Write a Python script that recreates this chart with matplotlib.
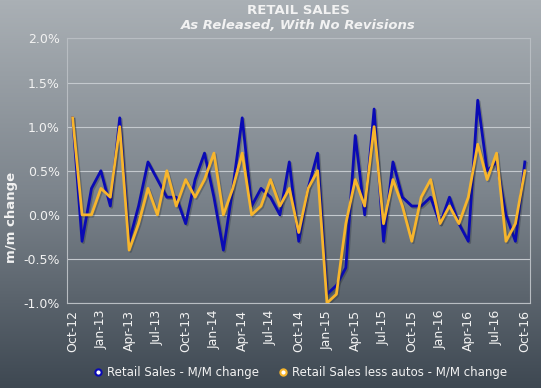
import numpy as np
import matplotlib.pyplot as plt
import matplotlib.patheffects as pe
from matplotlib.colors import LinearSegmentedColormap

# monthly data, Oct-12 .. Oct-16 (as released)
months = ["Oct-12", "Nov-12", "Dec-12", "Jan-13", "Feb-13", "Mar-13", "Apr-13", "May-13",
          "Jun-13", "Jul-13", "Aug-13", "Sep-13", "Oct-13", "Nov-13", "Dec-13", "Jan-14",
          "Feb-14", "Mar-14", "Apr-14", "May-14", "Jun-14", "Jul-14", "Aug-14", "Sep-14",
          "Oct-14", "Nov-14", "Dec-14", "Jan-15", "Feb-15", "Mar-15", "Apr-15", "May-15",
          "Jun-15", "Jul-15", "Aug-15", "Sep-15", "Oct-15", "Nov-15", "Dec-15", "Jan-16",
          "Feb-16", "Mar-16", "Apr-16", "May-16", "Jun-16", "Jul-16", "Aug-16", "Sep-16",
          "Oct-16"]
retail = [1.1, -0.3, 0.3, 0.5, 0.1, 1.1, -0.3, 0.1, 0.6, 0.4, 0.2, 0.2, -0.1, 0.4, 0.7, 0.2,
          -0.4, 0.3, 1.1, 0.1, 0.3, 0.2, 0.0, 0.6, -0.3, 0.3, 0.7, -0.9, -0.8, -0.6, 0.9, 0.0,
          1.2, -0.3, 0.6, 0.2, 0.1, 0.1, 0.2, -0.1, 0.2, -0.1, -0.3, 1.3, 0.5, 0.6, 0.0, -0.3,
          0.6]
ex_autos = [1.1, 0.0, 0.0, 0.3, 0.2, 1.0, -0.4, -0.1, 0.3, 0.0, 0.5, 0.1, 0.4, 0.2, 0.4, 0.7,
            0.0, 0.3, 0.7, 0.0, 0.1, 0.4, 0.1, 0.3, -0.2, 0.3, 0.5, -1.0, -0.9, -0.1, 0.4, 0.1,
            1.0, -0.1, 0.4, 0.1, -0.3, 0.2, 0.4, -0.1, 0.1, -0.1, 0.2, 0.8, 0.4, 0.7, -0.3, -0.1,
            0.5]
yticks = [-1.0, -0.5, 0.0, 0.5, 1.0, 1.5, 2.0]

txt = '#f2f2f2'
blue = '#0a0ab4'
gold = '#f7b52c'

fig = plt.figure(figsize=(5.41, 3.88), dpi=100)

# background gradient
bg = fig.add_axes([0, 0, 1, 1], zorder=-1)
cmap = LinearSegmentedColormap.from_list('bg', ['#aab0b5', '#7c848c', '#3e4852'])
bg.imshow(np.linspace(0, 1, 256).reshape(-1, 1), aspect='auto', cmap=cmap,
          extent=[0, 1, 0, 1])
bg.axis('off')

ax = fig.add_axes([0.1238, 0.219, 0.8559, 0.6818])
ax.set_facecolor('none')
x = np.arange(len(months))
shadow = [pe.SimpleLineShadow(offset=(1, -1), shadow_color='#202830', alpha=0.3), pe.Normal()]
ax.plot(x, retail, color=blue, lw=2, path_effects=shadow, zorder=3)
ax.plot(x, ex_autos, color=gold, lw=2, path_effects=shadow, zorder=4)

ax.set_xlim(-0.6, 48.55)
ax.set_ylim(-1.0, 2.0)
ax.set_yticks(yticks)
ax.set_yticklabels([f'{v:.1f}%' for v in yticks])
ax.set_xticks(x[::3])
ax.set_xticklabels(months[::3], rotation=90)
ax.tick_params(colors=txt, labelsize=9, length=0, pad=5)
ax.grid(axis='y', color='#c4c9ce', lw=0.8)
for s in ax.spines.values():
    s.set_color('#b8bdc2')
    s.set_linewidth(0.8)

fig.text(0.022, 0.44, 'm/m change', rotation=90, color=txt, fontsize=9.5,
         fontweight='bold', ha='center', va='center')
fig.text(0.552, 0.972, 'RETAIL SALES', color=txt, fontsize=9.5, fontweight='bold',
         ha='center', va='center')
fig.text(0.552, 0.935, 'As Released, With No Revisions', color=txt, fontsize=9.5,
         fontweight='bold', style='italic', ha='center', va='center')

h1, = ax.plot([], [], ls='none', marker='o', ms=4.5, mfc='white', mec=blue, mew=1.5)
h2, = ax.plot([], [], ls='none', marker='o', ms=4.5, mfc='white', mec=gold, mew=1.5)
leg = fig.legend([h1, h2], ['Retail Sales - M/M change', 'Retail Sales less autos - M/M change'],
                 loc='center', bbox_to_anchor=(0.555, 0.04), ncol=2, frameon=False,
                 fontsize=8.5, handlelength=0.8, handletextpad=0.4, columnspacing=1.6)
for t in leg.get_texts():
    t.set_color(txt)

fig.savefig('out.png', dpi=100)
